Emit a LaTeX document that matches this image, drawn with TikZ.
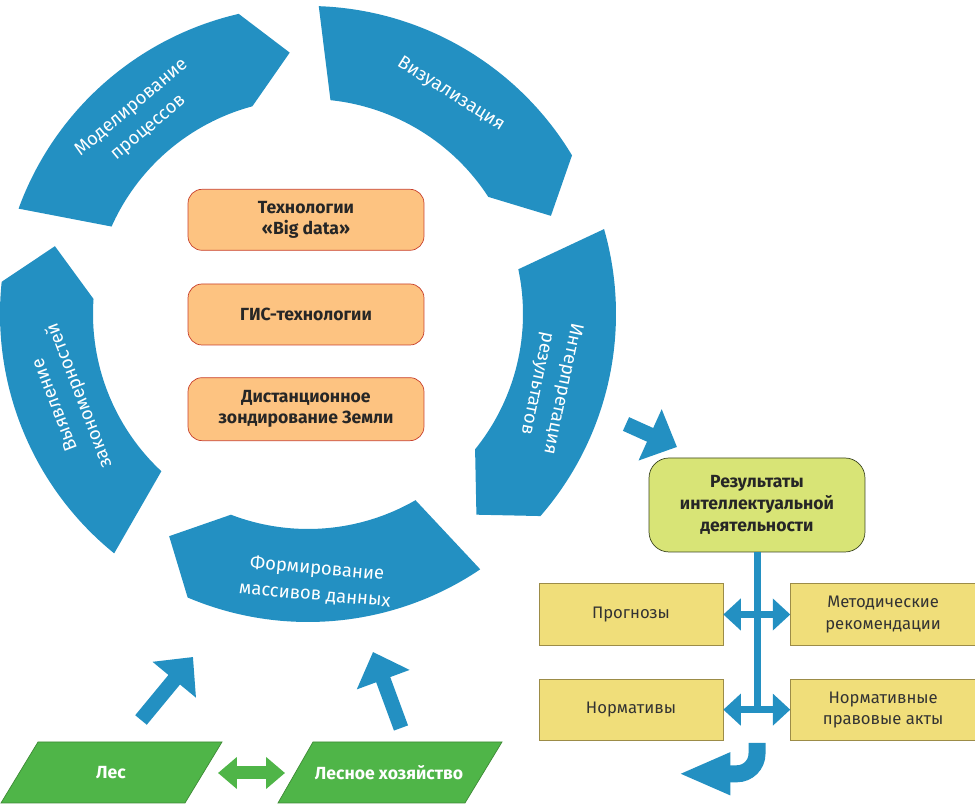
\documentclass[tikz,border=0pt]{standalone}
\usepackage{fontspec}
\setmainfont{Fira Sans}
\usetikzlibrary{positioning,calc,arrows.meta}

\definecolor{ringblue}{HTML}{2390C2}
\definecolor{techfill}{HTML}{FDC381}
\definecolor{techline}{HTML}{C8402C}
\definecolor{resfill}{HTML}{D8E476}
\definecolor{resline}{HTML}{3C4620}
\definecolor{outfill}{HTML}{F0DE7A}
\definecolor{outdraw}{HTML}{9C8C48}
\definecolor{forestfill}{HTML}{4FB548}
\definecolor{forestline}{HTML}{3D8A35}

\tikzset{
  ringtext/.style={text=white, align=center, font=\fontsize{10.5}{15}\selectfont},
  tech/.style={draw=techline, fill=techfill, rounded corners=0.28cm, minimum width=4.72cm,
    minimum height=1.22cm, align=center, text=black!85, font=\bfseries\fontsize{10}{12}\selectfont},
  resbox/.style={draw=resline, fill=resfill, rounded corners=0.4cm, minimum width=4.32cm,
    minimum height=1.88cm, align=center, text=black!85, font=\bfseries\fontsize{10}{12.5}\selectfont},
  outbox/.style={draw=outdraw, fill=outfill, minimum width=3.68cm, minimum height=1.23cm,
    align=center, text=black!80, font=\fontsize{9.5}{12}\selectfont},
  forest/.style={draw=forestline, fill=forestfill},
  foresttext/.style={text=white, font=\bfseries\fontsize{10}{12}\selectfont},
  blockarrow/.style={ringblue, line width=0.3cm, -{Triangle[length=0.59cm, width=1.09cm]}},
  twoway/.style={ringblue, line width=0.14cm,
    {Triangle[length=0.35cm, width=0.62cm]}-{Triangle[length=0.35cm, width=0.62cm]}}
}

\begin{document}
\begin{tikzpicture}[x=0.02cm, y=0.02cm]
\useasboundingbox (0,0) rectangle (975,804);

% ring of five arrows
\begin{scope}[shift={(308,490)}]
  \foreach \t in {158,86,14,-58,-131}
    \fill[ringblue] (\t+2:308) arc[start angle=\t+2, end angle=\t-55, radius=308]
      -- (\t-64:262) -- (\t-53:215) arc[start angle=\t-53, end angle=\t-2, radius=215] -- cycle;
  \node[ringtext, rotate=40] (model) at (130.6:258) {Моделирование\\процессов};
  \node[ringtext, rotate=-32] (vis) at (57:262) {Визуализация};
  \node[ringtext, rotate=-102] (interp) at (-16.6:252) {Интерпретация\\результатов};
  \node[ringtext, rotate=-5] (form) at (-88.3:268) {Формирование\\массивов данных};
  \node[ringtext, rotate=111] (vyyav) at (199.7:255) {Выявление\\закономерностей};
\end{scope}

% technologies
\node[tech] (gis) at (306,489.5) {ГИС-технологии};
\node[tech, above=0.66cm of gis] (bigdata) {Технологии\\«Big data»};
\node[tech, below=0.64cm of gis, minimum height=1.26cm] (dzz) {Дистанционное\\зондирование Земли};

% results
\node[resbox] (res) at (757,299) {Результаты\\интеллектуальной\\деятельности};
\node[outbox] (prog) at (631,189.5) {Прогнозы};
\node[outbox, right=1.34cm of prog, minimum width=3.7cm] (metod) {Методические\\рекомендации};
\node[outbox, below=0.66cm of prog] (norm) {Нормативы};
\node[outbox, right=1.34cm of norm, minimum width=3.7cm] (npa) {Нормативные\\правовые акты};

\draw[ringblue, line width=0.14cm] (res.south) -- (res.south |- npa.west);
\draw[twoway] (prog) -- (metod);
\draw[twoway] (norm) -- (npa);
\coordinate (turn) at ($(res.south |- npa.south)+(0,-2)$);
\draw[ringblue, line width=0.34cm, -{Triangle[length=1.04cm, width=0.78cm]}]
  (turn) -- ++(0,-11) arc[start angle=0, end angle=-90, radius=20] -- ++(-58.5,0);

\coordinate (interpout) at (626,380);
\coordinate (resin) at (677,357);
\draw[blockarrow] (interpout) -- (resin);

% forest
\filldraw[forest] (1,1) -- (185,1) -- (222,62) -- (38,62) -- cycle;
\filldraw[forest] (278,1) -- (465,1) -- (502,62) -- (313,62) -- cycle;
\node[foresttext] (les) at (111,31.5) {Лес};
\node[foresttext] (leshoz) at (389,31.5) {Лесное хозяйство};
\coordinate (lesr) at (218,31);
\coordinate (leshozl) at (285,31);
\draw[forestfill, line width=0.26cm, {Triangle[length=0.38cm, width=0.62cm]}-{Triangle[length=0.38cm, width=0.62cm]}]
  (lesr) -- (leshozl);

\coordinate (lesup) at (141,84);
\coordinate (forma) at (193,147);
\coordinate (leshozup) at (401,76);
\coordinate (formb) at (373,152);
\draw[blockarrow] (lesup) -- (forma);
\draw[blockarrow] (leshozup) -- (formb);
\end{tikzpicture}
\end{document}
